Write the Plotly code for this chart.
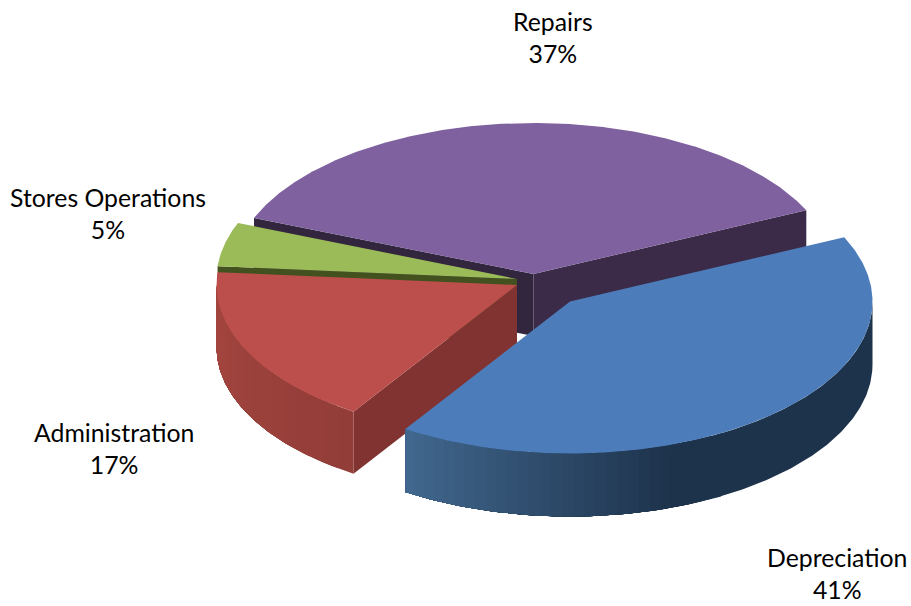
import math
import plotly.graph_objects as go

categories = ["Depreciation", "Administration", "Stores Operations", "Repairs"]
shares = [41.1, 17.2, 4.7, 37.0]
percent_labels = ["41%", "17%", "5%", "37%"]

START_ANGLE = 65.0
apexes = {"Depreciation": (570, 301.5), "Administration": (517, 285),
          "Stores Operations": (517, 279), "Repairs": (533.5, 274)}
radii = {"Depreciation": (302.5, 152.0, 63.0), "Administration": (300.5, 151.0, 62.0),
         "Stores Operations": (300.5, 151.0, 62.0), "Repairs": (301.0, 151.0, 62.0)}
top_colors = {"Depreciation": "#4c7dba", "Administration": "#bc4f4c",
              "Stores Operations": "#9bbb59", "Repairs": "#7f619f"}
label_pos = {"Depreciation": (837, 573), "Administration": (114, 448),
             "Stores Operations": (108, 213), "Repairs": (553, 37)}

fig = go.Figure()


def point(name, theta, dy=0.0):
    t = math.radians(theta)
    rx, ry, _ = radii[name]
    ax, ay = apexes[name]
    return ax + rx * math.sin(t), ay - ry * math.cos(t) + dy


def poly(xs, ys, color):
    fig.add_trace(go.Scatter(x=xs, y=ys, mode="lines", fill="toself", fillcolor=color,
                             line=dict(width=0), hoverinfo="skip", showlegend=False))


def radial_wall(name, theta, color):
    ax, ay = apexes[name]
    d = radii[name][2]
    x, y = point(name, theta)
    poly([ax, x, x, ax], [ay, y, y + d, ay + d], color)


def mix(c1, c2, f):
    a = [int(c1[i:i + 2], 16) for i in (1, 3, 5)]
    b = [int(c2[i:i + 2], 16) for i in (1, 3, 5)]
    return "#%02x%02x%02x" % tuple(round(p + (q - p) * f) for p, q in zip(a, b))


def outer_wall(name, t0, t1, shade, n):
    # Each band runs to the far end and is painted over by the next, so no seams appear.
    d = radii[name][2]
    for i in range(n):
        a = t0 + (t1 - t0) * i / n
        m = max(2, int((t1 - a) * 1.5))
        steps = [a + (t1 - a) * k / m for k in range(m + 1)]
        pts = [point(name, s) for s in steps] + [point(name, s, d) for s in reversed(steps)]
        poly([p[0] for p in pts], [p[1] for p in pts], shade(a + (t1 - t0) / (2 * n)))


def top_face(name, t0, t1):
    n = max(4, int((t1 - t0) * 2))
    pts = [apexes[name]] + [point(name, t0 + (t1 - t0) * i / n) for i in range(n + 1)]
    poly([p[0] for p in pts], [p[1] for p in pts], top_colors[name])


spans = {}
angle = START_ANGLE
for cat, share in zip(categories, shares):
    spans[cat] = (angle, angle + share * 3.6)
    angle += share * 3.6

a, b = spans["Repairs"]
radial_wall("Repairs", a, "#32263f")
radial_wall("Repairs", b, "#3b2b48")
top_face("Repairs", a, b)

a, b = spans["Stores Operations"]
radial_wall("Stores Operations", a, "#43511f")
top_face("Stores Operations", a, b)

a, b = spans["Administration"]
radial_wall("Administration", a, "#803331")
red_a = a
outer_wall("Administration", a, 270, lambda t: mix("#923d39", "#a5463f", (t - red_a) / (270 - red_a)), 16)
top_face("Administration", a, b)

a, b = spans["Depreciation"]
blue_b = b
outer_wall("Depreciation", 150, b,
           lambda t: "#1d324b" if t < 160 else mix("#1d324b", "#42688f", (t - 160) / (blue_b - 160)), 30)
outer_wall("Depreciation", 90, 151, lambda t: "#1d324b", 1)
top_face("Depreciation", a, b)

for cat, pct in zip(categories, percent_labels):
    x, y = label_pos[cat]
    fig.add_annotation(x=x, y=y, text=f"{cat}<br>{pct}", showarrow=False, xanchor="center", yanchor="middle",
                       align="center", font=dict(family="Lato", size=24.8, color="#000000"))

fig.update_layout(width=911, height=606, margin=dict(l=0, r=0, t=0, b=0),
                  paper_bgcolor="white", plot_bgcolor="white", showlegend=False,
                  xaxis=dict(range=[0, 911], visible=False, fixedrange=True),
                  yaxis=dict(range=[606, 0], visible=False, fixedrange=True))
fig.write_html("out.html", config={"displayModeBar": False},
               post_script="document.body.style.margin='0';")
